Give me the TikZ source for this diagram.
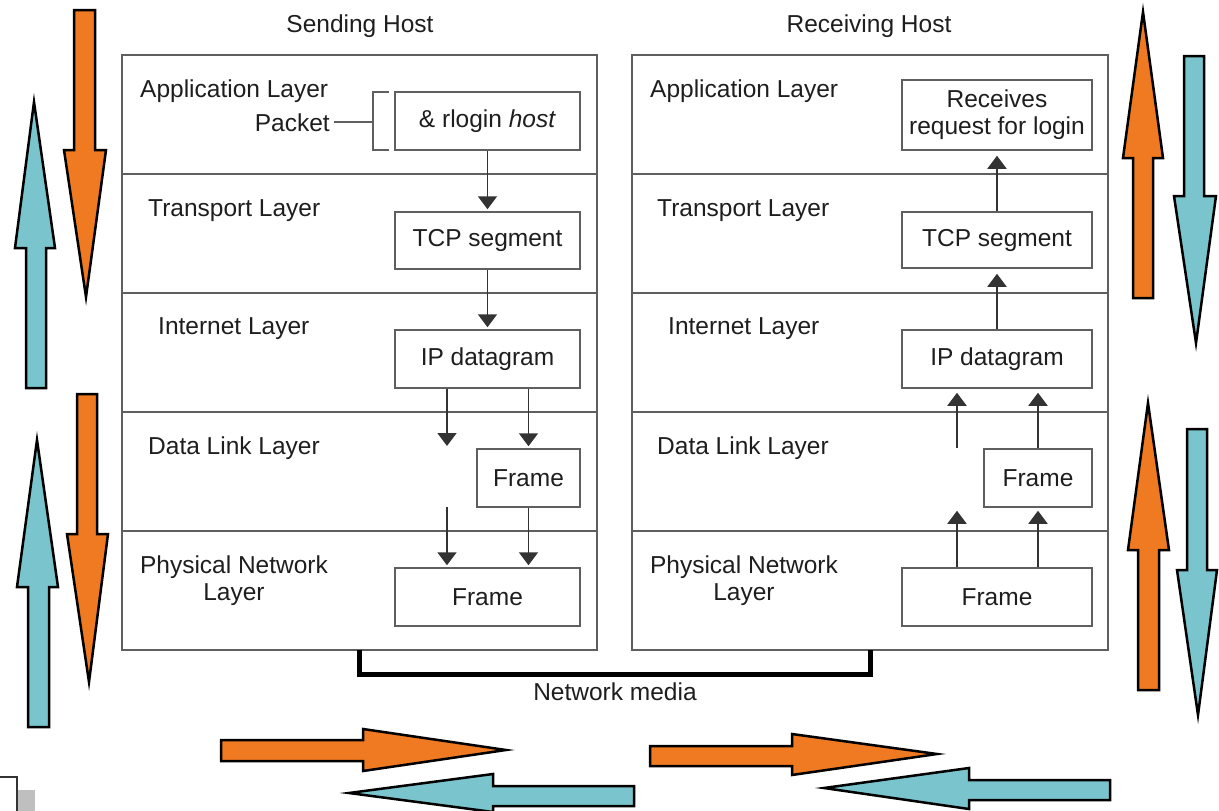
\documentclass[tikz,border=0pt]{standalone}
\usepackage{fontspec}
\setmainfont{Liberation Sans}
\usetikzlibrary{arrows.meta}
\definecolor{orng}{RGB}{239,122,34}
\definecolor{cyn}{RGB}{122,197,205}
\definecolor{pline}{RGB}{95,95,95}
\definecolor{txt}{RGB}{30,30,30}
\tikzset{
  lbl/.style={font=\fontsize{24.5}{27}\selectfont, text=txt, inner sep=0pt},
  pbox/.style={draw=pline, line width=1.5pt, inner sep=0pt, font=\fontsize{24.5}{27}\selectfont, text=txt, align=center},
  parr/.style={line width=1.7pt, draw=black!80, -{Triangle[width=19pt,length=13pt]}},
  bigarr/.style={draw=black, line width=2.5pt, line join=miter},
  panel/.style={draw=pline, line width=1.5pt},
}
\begin{document}
\begin{tikzpicture}[x=1pt,y=-1pt]
\useasboundingbox (0,0) rectangle (1219,811);
\fill[white] (0,0) rectangle (1219,811);

% headers
\node[lbl] (hs) at (360,26) {Sending Host};
\node[lbl] (hr) at (869,26) {Receiving Host};

% panels
\draw[panel] (122,55) rectangle (597,650);
\foreach \y in {174,293,412,531} \draw[panel] (122,\y) -- (597,\y);
\draw[panel] (632,55) rectangle (1108,650);
\foreach \y in {174,293,412,531} \draw[panel] (632,\y) -- (1108,\y);

% left labels
\node[lbl, anchor=west] (la) at (140,91) {Application Layer};
\node[lbl, anchor=east] (pk) at (330,123) {Packet};
\node[lbl, anchor=west] (lt) at (148,211) {Transport Layer};
\node[lbl, anchor=west] (li) at (158,329) {Internet Layer};
\node[lbl, anchor=west] (ld) at (148,448) {Data Link Layer};
\node[lbl, align=center] (lp) at (234,581) {Physical Network\\Layer};

% right labels
\node[lbl, anchor=west] (ra) at (650,91) {Application Layer};
\node[lbl, anchor=west] (rt) at (657,211) {Transport Layer};
\node[lbl, anchor=west] (ri) at (668,329) {Internet Layer};
\node[lbl, anchor=west] (rd) at (657,448) {Data Link Layer};
\node[lbl, align=center] (rp) at (744,581) {Physical Network\\Layer};

% left boxes
\node[pbox, minimum width=185pt, minimum height=58pt] (lrl) at (487.5,121) {\& rlogin \textit{host}};
\node[pbox, minimum width=185pt, minimum height=57pt] (ltcp) at (487.5,240.5) {TCP segment};
\node[pbox, minimum width=185pt, minimum height=58pt] (lip) at (487.5,359) {IP datagram};
\node[pbox, minimum width=103pt, minimum height=58pt] (lfr1) at (528.5,478) {Frame};
\node[pbox, minimum width=185pt, minimum height=58pt] (lfr2) at (487.5,597) {Frame};

% packet bracket
\coordinate (bk) at (373,122);
\draw[pline, line width=1.5pt] ([xshift=4pt]pk.east |- bk) -- (bk);
\draw[pline, line width=1.5pt] (389,92) -- (373,92) -- (373,150) -- (389,150);

% right boxes
\node[pbox, minimum width=190pt, minimum height=70pt] (rrec) at (997,115) {Receives\\request for login};
\node[pbox, minimum width=190pt, minimum height=56pt] (rtcp) at (997,240) {TCP segment};
\node[pbox, minimum width=190pt, minimum height=58pt] (rip) at (997,359) {IP datagram};
\node[pbox, minimum width=108pt, minimum height=58pt] (rfr1) at (1038,478) {Frame};
\node[pbox, minimum width=190pt, minimum height=58pt] (rfr2) at (997,597) {Frame};

% left arrows
\draw[parr, shorten >=2pt] (lrl.south) -- (ltcp.north);
\draw[parr, shorten >=2pt] (ltcp.south) -- (lip.north);
\coordinate (la1) at (447,446);
\draw[parr] (lip.south -| la1) -- (la1);
\draw[parr, shorten >=2pt] (lip.south -| lfr1) -- (lfr1.north);
\coordinate (la2) at (447,507);
\draw[parr, shorten >=2pt] (la2) -- (lfr2.north -| la2);
\draw[parr, shorten >=2pt] (lfr1.south) -- (lfr2.north -| lfr1);

% right arrows
\draw[parr, shorten >=5pt] (rtcp.north) -- (rrec.south);
\draw[parr, shorten >=5pt] (rip.north) -- (rtcp.south);
\coordinate (ra1) at (957,448);
\draw[parr, shorten >=4pt] (ra1) -- (rip.south -| ra1);
\draw[parr, shorten >=4pt] (rfr1.north) -- (rip.south -| rfr1);
\draw[parr, shorten >=3pt] (rfr2.north -| ra1) -- (rfr1.south -| ra1);
\draw[parr, shorten >=3pt] (rfr2.north -| rfr1) -- (rfr1.south);

% network media
\coordinate (nm1) at (359,650);
\coordinate (nm2) at (870,650);
\draw[black, line width=5pt, line join=miter] (nm1) -- (359,674) -- (870,674) -- (nm2);
\node[lbl] (nm) at (615,692) {Network media};

% big arrows left
\draw[bigarr, fill=orng] (74,10) -- (95,10) -- (95,150) -- (106,150) -- (86,297) -- (64,150) -- (74,150) -- cycle;
\draw[bigarr, fill=cyn] (26,388) -- (46,388) -- (46,248) -- (55,248) -- (34,102) -- (15,248) -- (26,248) -- cycle;
\draw[bigarr, fill=orng] (77,394) -- (97,394) -- (97,534) -- (108,534) -- (89,682) -- (67,534) -- (77,534) -- cycle;
\draw[bigarr, fill=cyn] (28,727) -- (49,727) -- (49,587) -- (58,587) -- (37,440) -- (17,587) -- (28,587) -- cycle;

% big arrows right
\draw[bigarr, fill=orng] (1133,298) -- (1153,298) -- (1153,158) -- (1163,158) -- (1143,12) -- (1123,158) -- (1133,158) -- cycle;
\draw[bigarr, fill=cyn] (1184,56) -- (1204,56) -- (1204,196) -- (1216,196) -- (1196,343) -- (1174,196) -- (1184,196) -- cycle;
\draw[bigarr, fill=orng] (1138,690) -- (1159,690) -- (1159,550) -- (1169,550) -- (1148,403) -- (1128,550) -- (1138,550) -- cycle;
\draw[bigarr, fill=cyn] (1187,429) -- (1207,429) -- (1207,570) -- (1217,570) -- (1198,715) -- (1177,570) -- (1187,570) -- cycle;

% big arrows bottom
\draw[bigarr, fill=orng] (221,740) -- (363,740) -- (363,729) -- (506,750) -- (363,771) -- (363,761) -- (221,761) -- cycle;
\draw[bigarr, fill=cyn] (634,786) -- (634,806) -- (493,806) -- (493,812) -- (349,793) -- (493,774) -- (493,786) -- cycle;
\draw[bigarr, fill=orng] (650,746) -- (792,746) -- (792,734) -- (937,754) -- (792,775) -- (792,766) -- (650,766) -- cycle;
\draw[bigarr, fill=cyn] (1110,780) -- (1110,800) -- (969,800) -- (969,809) -- (824,788) -- (969,768) -- (969,780) -- cycle;

% corner fragment
\draw[black!80, line width=1.5pt] (0,777) -- (17,777) -- (17,811);
\fill[black!25] (18,790) rectangle (35,811);
\end{tikzpicture}
\end{document}
